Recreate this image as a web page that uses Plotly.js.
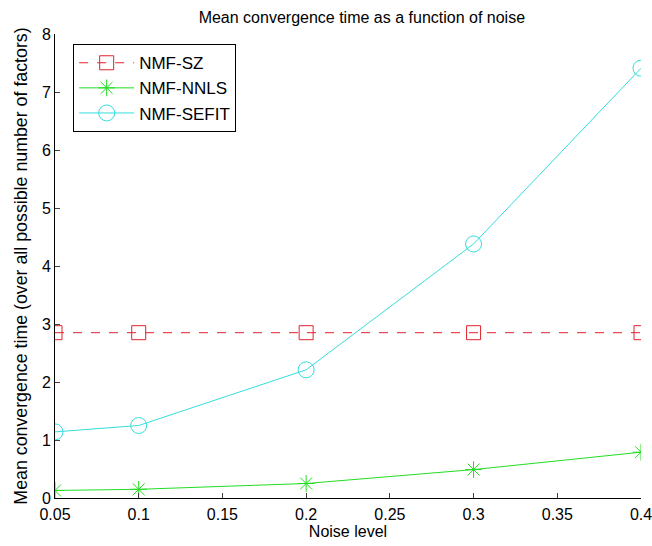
<!DOCTYPE html>
<html><head><meta charset="utf-8">
<script src="https://cdn.plot.ly/plotly-3.0.1.min.js"></script>
<style>html,body{margin:0;padding:0;background:#fff}#chart{width:652px;height:546px}</style>
</head><body><div id="chart"></div>
<script>
const noise = [0.05, 0.1, 0.2, 0.3, 0.4];
const nmfSZ = [2.85, 2.85, 2.85, 2.85, 2.85];
const nmfNNLS = [0.13, 0.15, 0.25, 0.49, 0.79];
const nmfSEFIT = [1.14, 1.25, 2.21, 4.38, 7.41];
const xTicks = [0.05, 0.1, 0.15, 0.2, 0.25, 0.3, 0.35, 0.4];
const xTickText = ['0.05', '0.1', '0.15', '0.2', '0.25', '0.3', '0.35', '0.4'];
const yTicks = [0, 1, 2, 3, 4, 5, 6, 7, 8];

const traces = [
  {x: noise, y: nmfSZ, name: 'NMF-SZ', mode: 'lines+markers',
   line: {color: '#e0242c', width: 1, dash: 'dash'},
   marker: {symbol: 'square-open', size: 14, color: '#e0242c', line: {width: 1}}},
  {x: noise, y: nmfNNLS, name: 'NMF-NNLS', mode: 'lines+markers',
   line: {color: '#22dd22', width: 1},
   marker: {symbol: 'asterisk-open', size: 14, color: '#22dd22', line: {width: 1, color: '#22dd22'}}},
  {x: noise, y: nmfSEFIT, name: 'NMF-SEFIT', mode: 'lines+markers',
   line: {color: '#33dddd', width: 1},
   marker: {symbol: 'circle-open', size: 16, color: '#33dddd', line: {width: 1}}}
];

const layout = {
  width: 652, height: 546,
  margin: {l: 55, r: 11, t: 34, b: 48},
  paper_bgcolor: '#fff', plot_bgcolor: '#fff',
  font: {family: 'Liberation Sans, Arial, sans-serif', size: 16, color: '#000'},
  title: {text: 'Mean convergence time as a function of noise', x: 0.555, xanchor: 'center',
    yref: 'container', y: 0.969, yanchor: 'middle', font: {size: 16}},
  xaxis: {range: [0.05, 0.4], tickvals: xTicks, ticktext: xTickText, ticks: 'inside', ticklen: 5,
    showline: true, linecolor: '#000', linewidth: 1, showgrid: false, zeroline: false, mirror: false,
    ticklabelstandoff: 2, ticklabeloverflow: 'allow', automargin: false,
    title: {text: 'Noise level', standoff: 0, font: {size: 16}}, tickfont: {size: 16}},
  yaxis: {range: [0, 8], tickvals: yTicks, ticks: 'inside', ticklen: 5,
    showline: true, linecolor: '#000', linewidth: 1, showgrid: false, zeroline: false, mirror: false,
    automargin: false,
    title: {text: 'Mean convergence time (over all possible number of factors)', standoff: 9, font: {size: 17.8}}, tickfont: {size: 16}},
  showlegend: true,
  legend: {x: 0.031, y: 0.978, xanchor: 'left', yanchor: 'top', bgcolor: '#fff', bordercolor: '#000', borderwidth: 1,
    font: {size: 17}, tracegroupgap: 0, itemwidth: 55},
};
Plotly.newPlot('chart', traces, layout, {displayModeBar: false, staticPlot: true});
</script></body></html>
